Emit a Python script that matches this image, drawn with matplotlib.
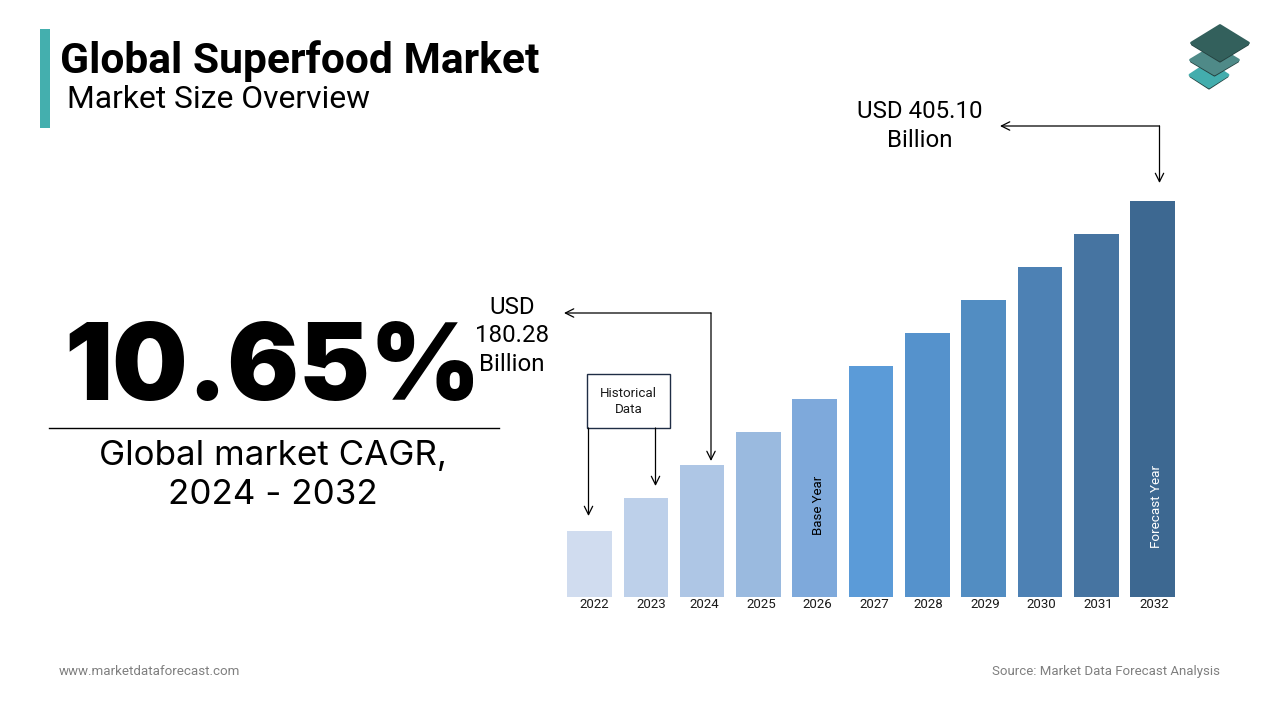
import matplotlib
matplotlib.use("Agg")
import matplotlib.pyplot as plt
from matplotlib.patches import Polygon, Rectangle

# ---- data ----
years = ["2022", "2023", "2024", "2025", "2026", "2027", "2028", "2029", "2030", "2031", "2032"]
bar_heights = [66, 99, 132, 165, 198, 231, 264, 297, 330, 363, 396]  # drawn height, the source bars are illustrative
bar_colors = ["#D0DCEF", "#BDD0EA", "#AEC6E5", "#9ABADF", "#7EA9DB", "#5B9BD8",
              "#5592CC", "#528DC2", "#4D81B4", "#4674A1", "#3D6891"]
title = "Global Superfood Market"
subtitle = "Market Size Overview"
cagr = "10.65%"
cagr_caption = "Global market CAGR,\n2024 - 2032"
start_label = "USD\n180.28\nBillion"
end_label = "USD 405.10\nBillion"

W, H = 1280, 720
fig = plt.figure(figsize=(W / 100, H / 100), dpi=100, facecolor="white")

# overlay in pixel coordinates (y downward)
ov = fig.add_axes([0, 0, 1, 1], zorder=3)
ov.set_xlim(0, W); ov.set_ylim(H, 0); ov.axis("off"); ov.patch.set_alpha(0)

# bar axes: x in px from 560 to 1180, baseline at y=597
ax = fig.add_axes([560 / W, (H - 597) / H, 620 / W, 420 / H], zorder=2)
ax.set_xlim(560, 1180); ax.set_ylim(0, 420)
centers = [589.5 + 56.3 * i for i in range(len(years))]
ax.bar(centers, bar_heights, width=44.6, color=bar_colors)
ax.set_xticks([594, 651, 704, 761, 817.5, 874, 928, 985, 1041, 1098, 1154])
ax.set_xticklabels(years, fontsize=9.5, family="Roboto", color="#1a1a1a")
ax.tick_params(axis="x", length=0, pad=1)
ax.set_yticks([])
for s in ax.spines.values():
    s.set_visible(False)
ax.patch.set_alpha(0)

# header
ov.add_patch(Rectangle((40, 29), 10, 99, color="#44AFAE", lw=0))
ov.text(60, 61, title, family="Roboto", weight="bold", fontsize=30.7, va="center", color="black")
ov.text(67, 100, subtitle, family="Roboto", fontsize=22.9, va="center", color="black")

# logo
def diamond(cx, cy, hw, hh, color):
    shadow = "#24403E"
    ov.add_patch(Polygon([(cx - hw + 2, cy + 1.5), (cx, cy - hh + 3), (cx + hw - 2, cy + 1.5), (cx, cy + hh - 0.5)],
                         closed=True, facecolor=shadow, edgecolor=shadow, lw=1.5, joinstyle="round"))
    ov.add_patch(Polygon([(cx - hw + 1.5, cy), (cx, cy - hh + 1.5), (cx + hw - 1.5, cy), (cx, cy + hh - 2)],
                         closed=True, facecolor=color, edgecolor=color, lw=2, joinstyle="round"))
diamond(1209, 75, 20.5, 14, "#43ADAD")
diamond(1214.5, 60, 25.5, 16, "#4F8A88")
diamond(1220, 43, 30, 19, "#33605C")

# left KPI
ov.text(272.5, 372, cagr, family="Inter", weight="black", fontsize=76.5, ha="center", va="center", color="black")
ov.plot([49, 499], [427.5, 427.5], color="black", lw=1)
ov.text(273, 475.5, cagr_caption, family="Inter", fontsize=25.2, ha="center", va="center", color="black", linespacing=1.27)

# callouts
ov.text(512, 336, start_label, family="Roboto", fontsize=17.3, ha="center", va="center", color="black", linespacing=1.3)
ov.text(920, 126, end_label, family="Roboto", fontsize=17.3, ha="center", va="center", color="black", linespacing=1.3)

def head(tail, tip):
    ov.annotate("", xy=tip, xytext=tail,
                arrowprops=dict(arrowstyle="->", color="black", lw=0.9, mutation_scale=15, shrinkA=0, shrinkB=0))

head((711, 313), (711, 461))
head((711, 313), (564, 313))
head((1159.5, 126), (1159.5, 183))
head((1159.5, 126), (1000, 126))
head((588.5, 428), (588.5, 516))
head((655.5, 428), (655.5, 486))

ov.add_patch(Rectangle((587, 373.5), 82.5, 54, facecolor="white", edgecolor="#1F2D45", lw=1))
ov.text(628.5, 401.5, "Historical\nData", family="Roboto", fontsize=9.6, ha="center", va="center", color="#1a1a1a", linespacing=1.3)

# vertical labels inside bars
ov.text(818.5, 505.5, "Base Year", family="Roboto", fontsize=9.5, rotation=90, ha="center", va="center", color="black")
ov.text(1157, 506.5, "Forecast Year", family="Roboto", fontsize=9.7, rotation=90, ha="center", va="center", color="white")

# footer
ov.text(59, 671.5, "www.marketdataforecast.com", family="Roboto", fontsize=9.6, va="center", color="#7F7F7F")
ov.text(1220, 671, "Source: Market Data Forecast Analysis", family="Roboto", fontsize=9.55, va="center", ha="right", color="#7F7F7F")

fig.savefig("out.png", dpi=100, facecolor="white")
